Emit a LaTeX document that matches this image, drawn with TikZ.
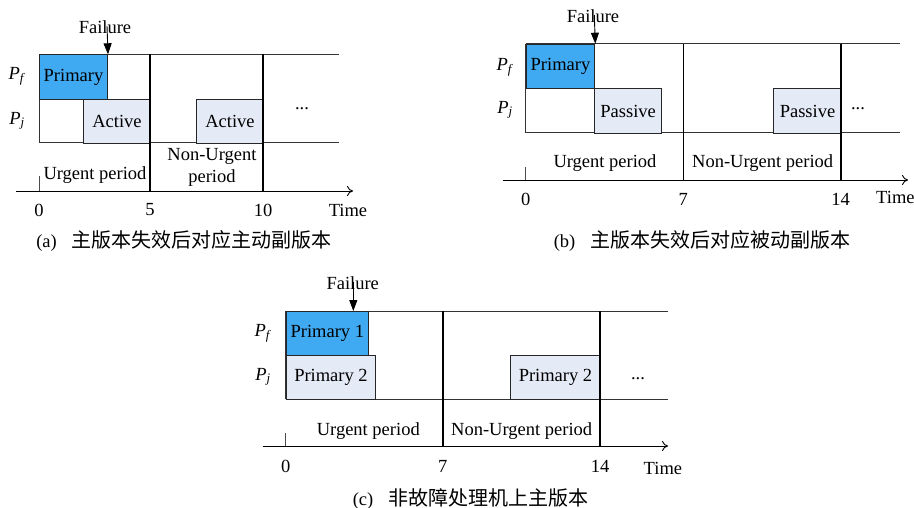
\documentclass[tikz,border=0pt]{standalone}
\usepackage{fontspec}
\setmainfont{Liberation Serif}
\newfontfamily\cjk{Noto Sans CJK SC}
\usetikzlibrary{arrows.meta}
\definecolor{prim}{HTML}{3FA9F2}
\definecolor{sec}{HTML}{E4EAF6}
\begin{document}
\begin{tikzpicture}[x=1pt,y=-1pt,
  font=\fontsize{18.5}{22}\selectfont,
  every node/.style={inner sep=0pt},
  rowline/.style={line width=1pt, draw=black!80},
  boundary/.style={line width=2pt},
  thinbound/.style={line width=1pt},
  primbox/.style={draw=black!85, line width=1pt, fill=prim, anchor=north west},
  secbox/.style={draw=black!85, line width=1pt, fill=sec, anchor=north west},
  failarrow/.style={-{Triangle[length=11pt,width=8pt]}, line width=0.9pt},
  axisline/.style={-{To[length=6pt,width=10pt]}, line width=0.9pt},
  tickline/.style={line width=0.6pt, draw=black!70},
  dots/.style={anchor=base},
  proc/.style={},
  capt/.style={font=\fontsize{18.5}{22}\selectfont},
  cjkcap/.style={}
]
\useasboundingbox (0,0) rectangle (914,508);

% ---------------- panel (a) ----------------
\draw[rowline] (39,54.3) -- (339,54.3);
\draw[rowline] (39,142.7) -- (339,142.7);
\draw[rowline] (39,54.3) -- (39,142.7);
\node[primbox, minimum width=68, minimum height=44.4] (aprim) at (39,54.3) {Primary};
\node[secbox, minimum width=67, minimum height=44] (aact1) at (83,98.7) {Active};
\node[secbox, minimum width=67, minimum height=44] (aact2) at (196,98.7) {Active};
\draw[boundary] (150,54.3) -- (150,191);
\draw[boundary] (263,54.3) -- (263,191);
\coordinate (aaxs) at (16,191);
\coordinate (aaxe) at (353,191);
\draw[axisline] (aaxs) -- (aaxe);
\draw[tickline] (39,176) -- (39,191);
\node (a0) at (39,210) {0};
\node (a5) at (150,210) {5};
\node (a10) at (263,210) {10};
\node (atime) at (348,210) {Time};
\node (aurg) at (95,175) {Urgent period};
\node[align=center] (anon) at (212,167) {Non-Urgent\\period};
\node[dots] (adots) at (302,109.5) {...};
\node[proc] (apf) at (17,76) {\textit{P}\textsubscript{\textit{f}}};
\node[proc] (apj) at (17,121) {\textit{P}\textsubscript{\textit{j}}};
\node (afail) at (105,27) {Failure};
\coordinate (afailtop) at (107,26);
\draw[failarrow] (afailtop) -- (aprim.north east);
\node[capt] (acap) at (184,241) {(a)\hspace{0.8em}{\cjk\fontsize{20}{22}\selectfont 主版本失效后对应主动副版本}};

% ---------------- panel (b) ----------------
\draw[rowline] (525.7,43.7) -- (900,43.7);
\draw[rowline] (525.7,132.7) -- (900,132.7);
\draw[rowline] (525.7,43.7) -- (525.7,132.7);
\node[primbox, minimum width=68.6, minimum height=44.6] (bprim) at (525.7,43.7) {Primary};
\node[secbox, minimum width=66.7, minimum height=44.4] (bpas1) at (594.3,88.3) {Passive};
\node[secbox, minimum width=67.4, minimum height=44.4] (bpas2) at (773.3,88.3) {Passive};
\draw[thinbound] (683.3,43.7) -- (683.3,180);
\draw[boundary] (840.7,43.7) -- (840.7,180);
\coordinate (baxs) at (502.7,180);
\coordinate (baxe) at (908,180);
\draw[axisline] (baxs) -- (baxe);
\draw[tickline] (525.7,167) -- (525.7,180);
\node (b0) at (525.7,199) {0};
\node (b7) at (683.3,199) {7};
\node (b14) at (840.7,199) {14};
\node[anchor=west] (btime) at (876,197) {Time};
\node (burg) at (605,163) {Urgent period};
\node (bnon) at (762.7,163) {Non-Urgent period};
\node[dots] (bdots) at (858,109.5) {...};
\node[proc] (bpf) at (505,67) {\textit{P}\textsubscript{\textit{f}}};
\node[proc] (bpj) at (505,110) {\textit{P}\textsubscript{\textit{j}}};
\node (bfail) at (593,16) {Failure};
\coordinate (bfailtop) at (594.3,15);
\draw[failarrow] (bfailtop) -- (bprim.north east);
\node[capt] (bcap) at (702,241) {(b)\hspace{0.8em}{\cjk\fontsize{20}{22}\selectfont 主版本失效后对应被动副版本}};

% ---------------- panel (c) ----------------
\draw[rowline] (285.7,311) -- (667.7,311);
\draw[rowline] (285.7,399.3) -- (667.7,399.3);
\draw[rowline] (285.7,311) -- (285.7,399.3);
\node[primbox, minimum width=82.3, minimum height=44] (cprim1) at (285.7,311) {Primary 1};
\node[secbox, minimum width=89.6, minimum height=44.3] (cprim2) at (285.7,355) {Primary 2};
\node[secbox, minimum width=90, minimum height=44.3] (cprim2b) at (510,355) {Primary 2};
\draw[boundary] (442.7,311) -- (442.7,446);
\draw[boundary] (600,311) -- (600,446);
\coordinate (caxs) at (262.7,446);
\coordinate (caxe) at (668,446);
\draw[axisline] (caxs) -- (caxe);
\draw[tickline] (285.7,433) -- (285.7,446);
\node (c0) at (285.7,466.7) {0};
\node (c7) at (442.7,466.7) {7};
\node (c14) at (600,466.7) {14};
\node[anchor=west] (ctime) at (643.5,468) {Time};
\node (curg) at (368.3,431) {Urgent period};
\node (cnon) at (521.7,431) {Non-Urgent period};
\node[dots] (cdots) at (638,379.5) {...};
\node[proc] (cpf) at (263,333) {\textit{P}\textsubscript{\textit{f}}};
\node[proc] (cpj) at (263,377) {\textit{P}\textsubscript{\textit{j}}};
\node (cfail) at (352.7,283) {Failure};
\coordinate (cfailtop) at (353.3,282);
\coordinate (cfailpt) at (353.3,311);
\draw[failarrow] (cfailtop) -- (cfailpt);
\node[capt] (ccap) at (470.5,499) {(c)\hspace{0.8em}{\cjk\fontsize{20}{22}\selectfont 非故障处理机上主版本}};
\end{tikzpicture}
\end{document}
